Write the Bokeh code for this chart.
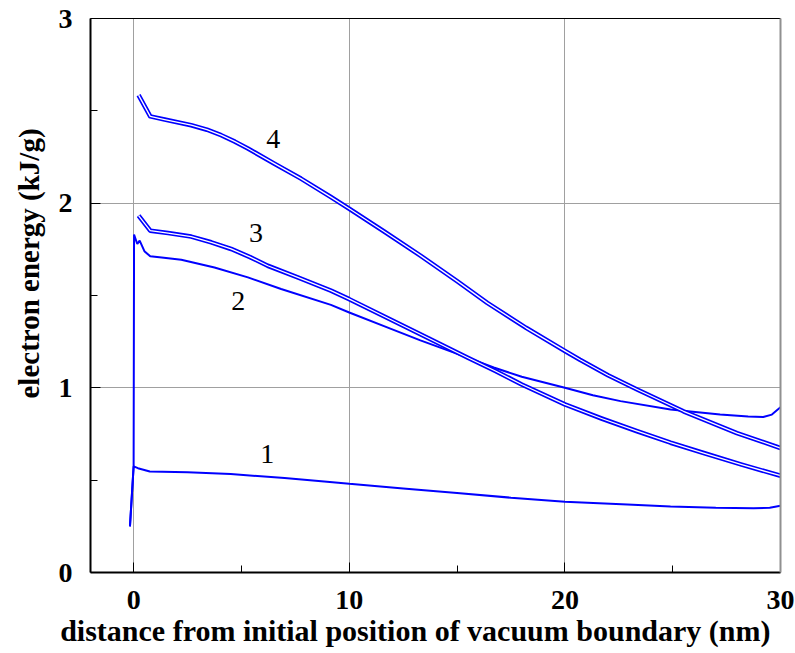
from bokeh.plotting import figure
from bokeh.models import LinearAxis, FixedTicker, Range1d, Title
from bokeh.core.properties import value
from bokeh.embed import file_html
from bokeh.resources import INLINE

# ---- data ----
x1 = [-0.17, 0.0, 0.2, 0.75, 2.5, 4.5, 7.0, 9.1, 10.0, 12.5, 15.0, 17.5, 20.0, 22.9, 24.9, 27.0, 28.75, 29.5, 30.0]
y1 = [0.25, 0.575, 0.565, 0.547, 0.543, 0.533, 0.512, 0.49, 0.48, 0.455, 0.43, 0.405, 0.383, 0.368, 0.357, 0.351, 0.348, 0.351, 0.362]

x2 = [-0.17, 0.0, 0.02, 0.17, 0.28, 0.5, 0.77, 1.3, 2.21, 3.75, 5.3, 6.84, 9.15, 10.0, 11.7, 13.3, 15.3, 16.7, 18.0, 20.0, 21.3, 22.58, 24.9, 27.2, 28.5, 29.2, 29.6, 30.0]
y2 = [0.25, 0.575, 1.83, 1.779, 1.797, 1.74, 1.712, 1.706, 1.694, 1.652, 1.598, 1.535, 1.449, 1.408, 1.33, 1.257, 1.172, 1.11, 1.06, 1.0, 0.96, 0.928, 0.883, 0.855, 0.845, 0.842, 0.855, 0.895]

x3 = [0.23, 0.77, 1.6, 2.67, 3.6, 4.52, 5.4, 6.22, 7.61, 9.15, 10.0, 11.7, 13.3, 15.5, 16.8, 18.0, 20.0, 21.7, 23.35, 24.9, 26.44, 28.2, 30.0]
y3 = [1.933, 1.851, 1.838, 1.819, 1.788, 1.752, 1.708, 1.661, 1.598, 1.526, 1.48, 1.382, 1.29, 1.163, 1.09, 1.018, 0.91, 0.834, 0.765, 0.703, 0.647, 0.584, 0.524]

x4 = [0.23, 0.77, 1.44, 2.67, 3.4, 4.06, 4.7, 5.3, 6.53, 7.76, 9.15, 10.0, 11.6, 13.3, 15.0, 16.4, 18.2, 20.0, 20.7, 22.0, 23.35, 25.5, 27.98, 30.0]
y4 = [2.585, 2.47, 2.453, 2.422, 2.398, 2.368, 2.333, 2.296, 2.214, 2.133, 2.033, 1.97, 1.848, 1.716, 1.578, 1.46, 1.325, 1.2, 1.152, 1.068, 0.991, 0.873, 0.755, 0.674]

curve_names = ["1", "2", "3", "4"]
name_x = [6.2, 4.85, 5.68, 6.47]
name_y = [0.64, 1.47, 1.84, 2.35]

x_ticks = [0, 10, 20, 30]
x_minor = [5, 15, 25]
y_ticks = [0, 1, 2, 3]
y_minor = [0.5, 1.5, 2.5]

x_title = "distance from initial position of vacuum boundary (nm)"
y_title = "electron energy (kJ/g)"

FONT = "Liberation Serif"
BLUE = "#0000ff"

p = figure(width=795, height=653, output_backend="svg", toolbar_location=None,
           x_range=Range1d(-2, 30), y_range=Range1d(0, 3),
           min_border_left=90, min_border_top=18, min_border_right=15, min_border_bottom=81,
           background_fill_color="white", border_fill_color="white")
p.outline_line_color = None

# axes
for ax, tk, mn in ((p.xaxis[0], x_ticks, x_minor), (p.yaxis[0], y_ticks, y_minor)):
    ax.ticker = FixedTicker(ticks=tk, minor_ticks=mn)
    ax.axis_line_color = "black"
    ax.axis_line_width = 2
    ax.major_tick_in = 10
    ax.major_tick_out = 0
    ax.minor_tick_in = 7
    ax.minor_tick_out = 0
    ax.major_tick_line_color = "black"
    ax.minor_tick_line_color = "black"
    ax.major_label_text_font = FONT
    ax.major_label_text_font_style = "bold"
    ax.major_label_text_font_size = "28px"
    ax.major_label_text_color = "black"

p.xaxis.major_label_standoff = 18
p.yaxis.major_label_standoff = 18

top_ax = LinearAxis(ticker=FixedTicker(ticks=[]), axis_line_color="black", axis_line_width=1,
                    major_tick_line_color=None, minor_tick_line_color=None,
                    major_label_text_font_size="0px", major_tick_out=0, minor_tick_out=0,
                    major_label_standoff=0)
right_ax = LinearAxis(ticker=FixedTicker(ticks=[]), axis_line_color="#909090", axis_line_width=2,
                      major_tick_line_color=None, minor_tick_line_color=None,
                      major_label_text_font_size="0px", major_tick_out=0, minor_tick_out=0,
                      major_label_standoff=0)
p.add_layout(top_ax, "above")
p.add_layout(right_ax, "right")

# axis titles (as in the reference, not centred on the frame)
p.add_layout(Title(text=x_title, align="right", offset=10, standoff=0,
                   text_font=FONT, text_font_style="bold", text_font_size="30px",
                   text_color="black"), "below")
p.add_layout(Title(text=y_title, align="left", offset=174, standoff=21,
                   text_font=FONT, text_font_style="bold", text_font_size="29px",
                   text_color="black"), "left")

# grid
p.xgrid.grid_line_color = "#a0a0a0"
p.ygrid.grid_line_color = "#a0a0a0"
p.xgrid.grid_line_width = 1
p.ygrid.grid_line_width = 1

# curves
p.line(x1, y1, line_color=BLUE, line_width=2)
p.line(x2, y2, line_color=BLUE, line_width=2)
for xs, ys in ((x3, y3), (x4, y4)):
    p.line(xs, ys, line_color=BLUE, line_width=4.6, line_join="round")
    p.line(xs, ys, line_color="white", line_width=1.3, line_join="round")

p.text(x=name_x, y=name_y, text=curve_names, text_font=value(FONT), text_font_size="28px",
       text_color="black", text_align="center", text_baseline="middle")

open("out.html", "w").write(file_html(p, INLINE))
